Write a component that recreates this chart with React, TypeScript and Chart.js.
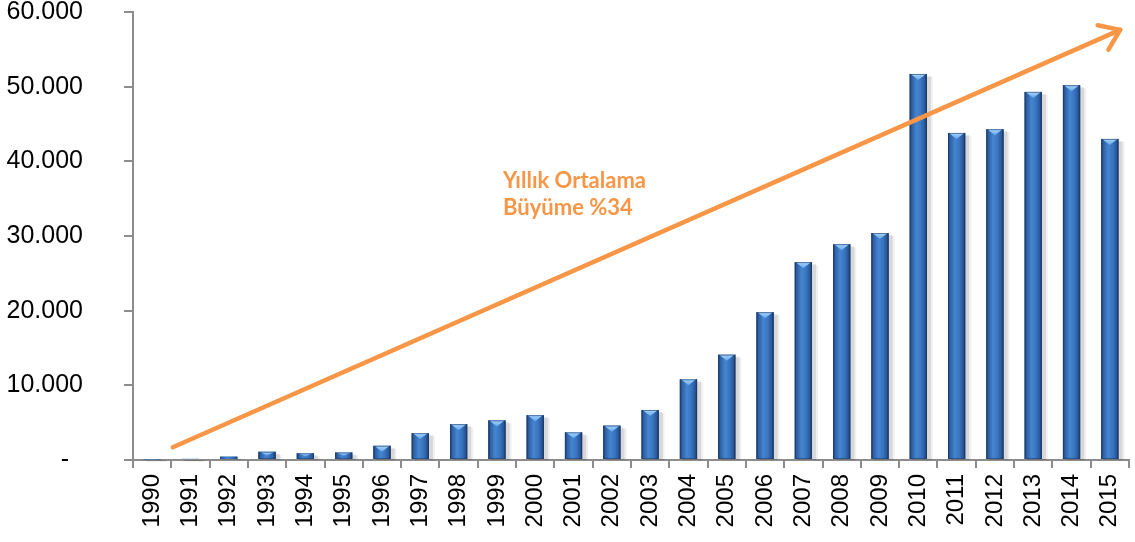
import React, { useEffect, useRef } from "react";
import { Chart, registerables } from "chart.js";

Chart.register(...registerables);

const years = ["1990","1991","1992","1993","1994","1995","1996","1997","1998","1999","2000","2001","2002","2003","2004","2005","2006","2007","2008","2009","2010","2011","2012","2013","2014","2015"];
const values = [80, 150, 450, 1100, 900, 1000, 1900, 3600, 4800, 5300, 6000, 3700, 4600, 6700, 10800, 14100, 19800, 26500, 28900, 30400, 51700, 43800, 44300, 49300, 50200, 43000];
const yTicks = [0, 10000, 20000, 30000, 40000, 50000, 60000];
const annotationLines = ["Yıllık Ortalama", "Büyüme %34"];
// arrow endpoints in (category index, value) space
const arrowStart = { x: 0.54, y: 1700 };
const arrowEnd = { x: 25.27, y: 57600 };
const textAnchor = { x: 9.16, y: 36400 };

const ORANGE = "#F79646";

const bevelPlugin = {
  id: "bevel",
  beforeDatasetsDraw(chart: any) {
    const ctx = chart.ctx;
    const meta = chart.getDatasetMeta(0);
    ctx.save();
    meta.data.forEach((bar: any) => {
      const w = bar.width;
      const left = bar.x - w / 2;
      const top = Math.min(bar.y, bar.base);
      const h = Math.abs(bar.base - bar.y);
      ctx.fillStyle = "rgba(0,0,0,0.10)";
      ctx.fillRect(left + 2, top + 2, w + 2, h - 1);
      ctx.fillStyle = "rgba(0,0,0,0.06)";
      ctx.fillRect(left + 3, top + 3, w + 3, h - 2);
    });
    ctx.restore();
  },
  afterDatasetsDraw(chart: any) {
    const ctx = chart.ctx;
    const meta = chart.getDatasetMeta(0);
    ctx.save();
    meta.data.forEach((bar: any) => {
      const w = bar.width;
      const left = bar.x - w / 2;
      const top = Math.min(bar.y, bar.base);
      const h = Math.abs(bar.base - bar.y);
      const g = ctx.createLinearGradient(left, 0, left + w, 0);
      g.addColorStop(0, "#1b3a66");
      g.addColorStop(0.12, "#2d5fa3");
      g.addColorStop(0.4, "#4585d0");
      g.addColorStop(0.65, "#3a76c2");
      g.addColorStop(0.88, "#2a5899");
      g.addColorStop(1, "#183359");
      ctx.fillStyle = g;
      ctx.fillRect(left, top, w, h);
      if (h > 3) {
        const capH = Math.min(6, h / 2);
        ctx.beginPath();
        ctx.moveTo(left + 1, top);
        ctx.lineTo(left + w - 1, top);
        ctx.lineTo(bar.x, top + capH);
        ctx.closePath();
        const cg = ctx.createLinearGradient(0, top, 0, top + capH);
        cg.addColorStop(0, "#a9d7fb");
        cg.addColorStop(1, "#62a6ec");
        ctx.fillStyle = cg;
        ctx.fill();
        ctx.strokeStyle = "rgba(30,60,110,0.6)";
        ctx.lineWidth = 1;
        ctx.strokeRect(left + 0.5, top + 0.5, w - 1, h - 1);
      }
    });
    ctx.restore();
  },
};

const arrowPlugin = {
  id: "arrowNote",
  afterDraw(chart: any) {
    const ctx = chart.ctx;
    const xs = chart.scales.x;
    const ys = chart.scales.y;
    const x1 = xs.getPixelForValue(arrowStart.x);
    const y1 = ys.getPixelForValue(arrowStart.y);
    const x2 = xs.getPixelForValue(arrowEnd.x);
    const y2 = ys.getPixelForValue(arrowEnd.y);
    ctx.save();
    ctx.strokeStyle = ORANGE;
    ctx.lineWidth = 4.5;
    ctx.lineCap = "round";
    ctx.lineJoin = "round";
    ctx.beginPath();
    ctx.moveTo(x1, y1);
    ctx.lineTo(x2, y2);
    ctx.stroke();
    const ang = Math.atan2(y2 - y1, x2 - x1);
    const L = 23;
    const spread = 0.62;
    ctx.beginPath();
    ctx.moveTo(x2 + L * Math.cos(ang + Math.PI - spread), y2 + L * Math.sin(ang + Math.PI - spread));
    ctx.lineTo(x2, y2);
    ctx.lineTo(x2 + L * Math.cos(ang + Math.PI + spread), y2 + L * Math.sin(ang + Math.PI + spread));
    ctx.stroke();

    ctx.fillStyle = ORANGE;
    ctx.font = "bold 22px Lato";
    ctx.textAlign = "left";
    ctx.textBaseline = "alphabetic";
    const tx = xs.getPixelForValue(textAnchor.x);
    const ty = ys.getPixelForValue(textAnchor.y);
    annotationLines.forEach((line, i) => {
      ctx.fillText(line, tx, ty + i * 27);
    });
    ctx.restore();
  },
};

export default function App() {
  const ref = useRef<HTMLCanvasElement>(null);
  useEffect(() => {
    if (!ref.current) return;
    const chart = new Chart(ref.current, {
      type: "bar",
      data: {
        labels: years,
        datasets: [
          {
            data: values,
            backgroundColor: "#3570b8",
            borderWidth: 0,
            barPercentage: 0.45,
            categoryPercentage: 1,
          },
        ],
      },
      options: {
        animation: false,
        responsive: true,
        maintainAspectRatio: false,
        layout: { padding: { top: 12, right: 6, left: 0, bottom: 0 } },
        plugins: { legend: { display: false }, tooltip: { enabled: false } },
        scales: {
          x: {
            grid: { display: true, drawOnChartArea: false, drawTicks: true, tickLength: 8, color: "#8c8c8c", lineWidth: 2, offset: true },
            border: { color: "#8c8c8c", width: 2 },
            ticks: {
              minRotation: 90,
              maxRotation: 90,
              autoSkip: false,
              padding: 6,
              color: "#000",
              font: { family: "Liberation Sans", size: 24 },
            },
            afterFit: (s: any) => { s.height = 82; s.paddingLeft = 0; s.paddingRight = 0; },
          },
          y: {
            min: 0,
            max: 60000,
            afterBuildTicks: (s: any) => { s.ticks = yTicks.map((v) => ({ value: v })); },
            grid: { display: true, drawOnChartArea: false, drawTicks: true, tickLength: 9, color: "#8c8c8c", lineWidth: 2 },
            border: { color: "#8c8c8c", width: 2 },
            ticks: {
              padding: 41,
              color: "#000",
              font: { family: "Liberation Sans", size: 25 },
              callback: (v: any) => (Number(v) === 0 ? "-  " : Number(v).toLocaleString("de-DE")),
            },
            afterFit: (s: any) => { s.width = 133; s.paddingTop = 0; s.paddingBottom = 0; },
          },
        },
      },
      plugins: [bevelPlugin, arrowPlugin],
    });
    return () => chart.destroy();
  }, []);
  return (
    <div style={{ position: "absolute", left: 0, top: 0, width: 1135, height: 542, background: "#fff" }}>
      <canvas ref={ref} />
    </div>
  );
}
